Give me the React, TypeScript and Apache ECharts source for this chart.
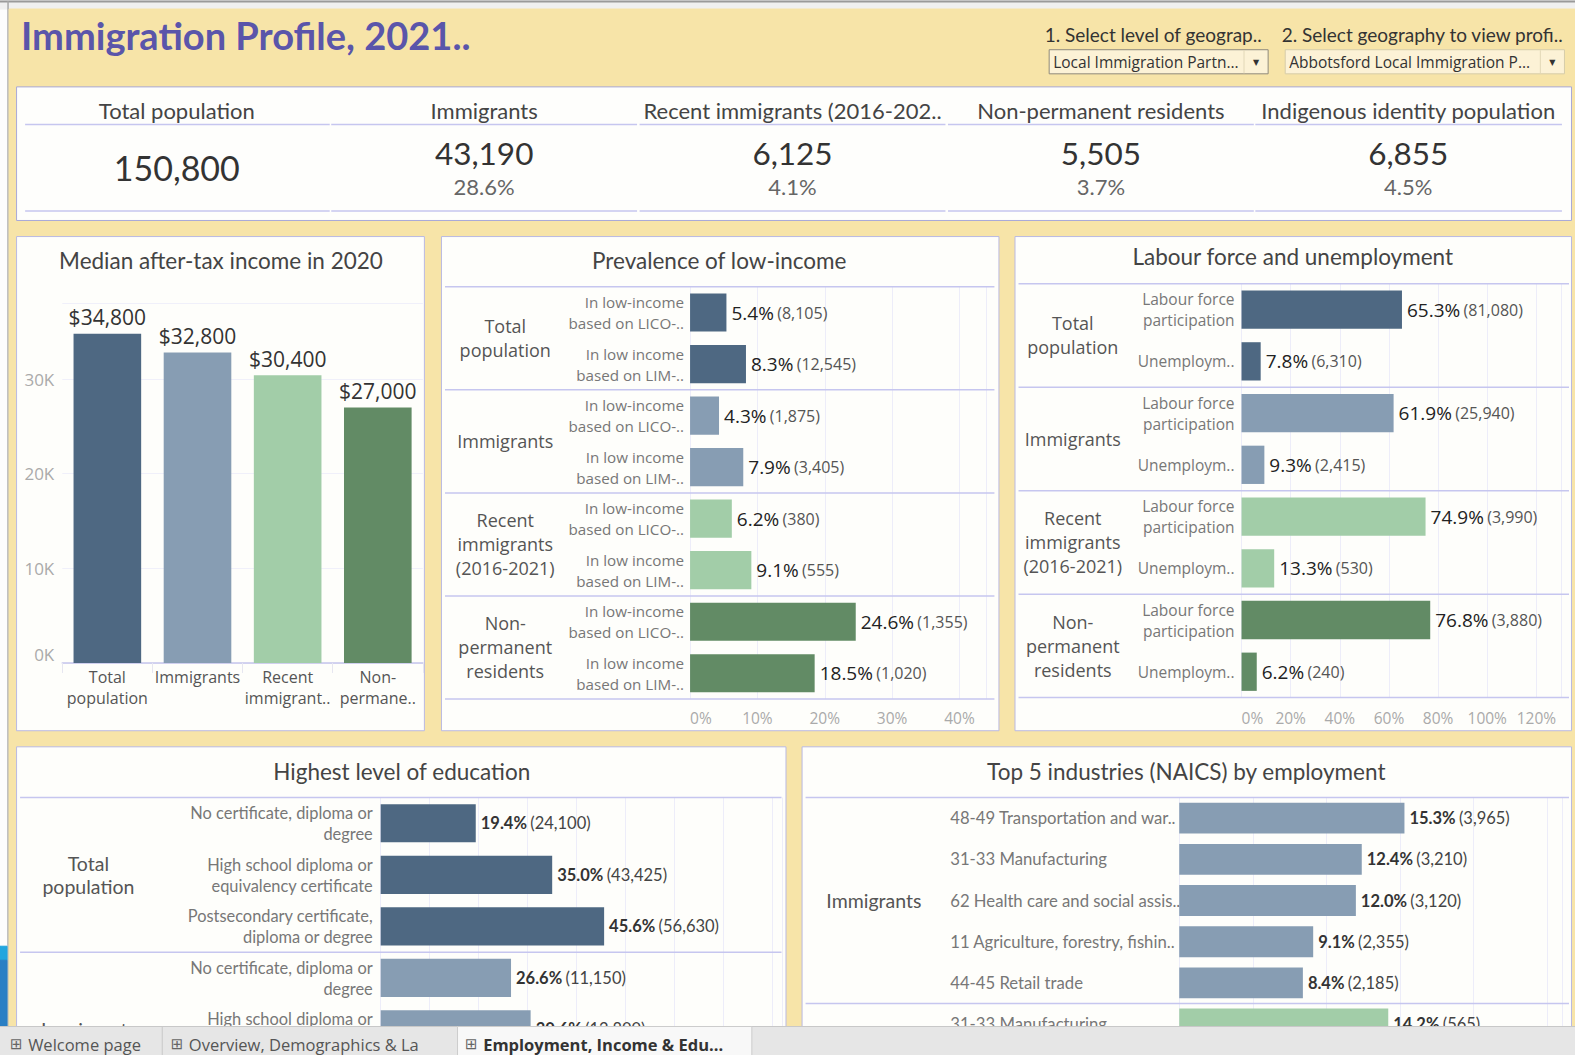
import React, { useEffect, useRef } from "react";
import * as echarts from "echarts";

const W = 1575;
const H = 1055;
const MAIN_H = 1026;

// ---------- data ----------
const dashboardTitle = "Immigration Profile, 2021..";
const filterLabels = ["1. Select level of geograp..", "2. Select geography to view profi.."];
const filterValues = ["Local Immigration Partn...", "Abbotsford Local Immigration P..."];

const kpiLabels = [
  "Total population",
  "Immigrants",
  "Recent immigrants (2016-202..",
  "Non-permanent residents",
  "Indigenous identity population",
];
const kpiValues = ["150,800", "43,190", "6,125", "5,505", "6,855"];
const kpiPercents = ["", "28.6%", "4.1%", "3.7%", "4.5%"];

const groups = ["Total population", "Immigrants", "Recent immigrants (2016-2021)", "Non-permanent residents"];
const groupLabels = ["Total\npopulation", "Immigrants", "Recent\nimmigrants\n(2016-2021)", "Non-\npermanent\nresidents"];
const groupColors = ["#4e6882", "#879db3", "#a2cda8", "#628b65"];

const incomeTitle = "Median after-tax income in 2020";
const incomeTickLabels = ["Total\npopulation", "Immigrants", "Recent\nimmigrant..", "Non-\npermane.."];
const incomeValues = [34800, 32800, 30400, 27000];

const lowTitle = "Prevalence of low-income";
const lowMeasures = ["In low-income\nbased on LICO-..", "In low income\nbased on LIM-.."];
const lowPct = [5.4, 8.3, 4.3, 7.9, 6.2, 9.1, 24.6, 18.5];
const lowCount = ["8,105", "12,545", "1,875", "3,405", "380", "555", "1,355", "1,020"];

const labourTitle = "Labour force and unemployment";
const labourMeasures = ["Labour force\nparticipation", "Unemploym.."];
const labourPct = [65.3, 7.8, 61.9, 9.3, 74.9, 13.3, 76.8, 6.2];
const labourCount = ["81,080", "6,310", "25,940", "2,415", "3,990", "530", "3,880", "240"];

const eduTitle = "Highest level of education";
const eduLevels = [
  "No certificate, diploma or\ndegree",
  "High school diploma or\nequivalency certificate",
  "Postsecondary certificate,\ndiploma or degree",
];
const eduRowGroup = [0, 0, 0, 1, 1];
const eduRowLevel = [0, 1, 2, 0, 1];
const eduPct = [19.4, 35.0, 45.6, 26.6, 30.6];
const eduCount = ["24,100", "43,425", "56,630", "11,150", "12,800"];

const indTitle = "Top 5 industries (NAICS) by employment";
const indLabels = [
  "48-49 Transportation and war..",
  "31-33 Manufacturing",
  "62 Health care and social assis..",
  "11 Agriculture, forestry, fishin..",
  "44-45 Retail trade",
  "31-33 Manufacturing",
];
const indRowGroup = [1, 1, 1, 1, 1, 2];
const indPct = [15.3, 12.4, 12.0, 9.1, 8.4, 14.2];
const indCount = ["3,965", "3,210", "3,120", "2,355", "2,185", "565"];

const tabs = ["Welcome page", "Overview, Demographics & La", "Employment, Income & Edu..."];

// ---------- layout ----------
const S = 1575 / 1568;
const sc = (v: number) => v * S;
const LATO = "Lato, 'Open Sans', sans-serif";
const OPEN = "'Open Sans', 'Noto Sans', sans-serif";
const LINE = "#c6c6ef";
const GRID_LINE = "#ededf9";

const Gd = {
  income: { left: 62, top: 302, width: 359, height: 358 },
  low: { left: 687, top: 285.5, width: 295, height: 410.4 },
  labour: { left: 1236, top: 282.5, width: 318, height: 412 },
  edu: { left: 379, top: 794, width: 400, height: 256.5 },
  ind: { left: 1174, top: 794, width: 381, height: 246 },
};
const scaleGrid = (g: any) => ({
  left: sc(g.left),
  top: sc(g.top),
  width: sc(g.width),
  height: sc(g.height),
  containLabel: false,
  outerBoundsMode: "none",
});

const fmtInt = (v: number) => String(v).replace(/\B(?=(\d{3})+(?!\d))/g, ",");

function text(x: number, y: number, s: string, st: any, extra: any = {}) {
  return {
    type: "text",
    x: sc(x),
    y: sc(y),
    silent: true,
    ...extra,
    style: { text: s, fill: "#444", align: "center", verticalAlign: "middle", ...st },
  };
}
function hline(x1: number, x2: number, y: number, color = LINE, w = 1.5, z = 1) {
  return { type: "line", z, silent: true, shape: { x1: sc(x1), y1: sc(y), x2: sc(x2), y2: sc(y) }, style: { stroke: color, lineWidth: w } };
}
function vline(x: number, y1: number, y2: number, color: string, w = 1, z = 1) {
  return { type: "line", z, silent: true, shape: { x1: sc(x), y1: sc(y1), x2: sc(x), y2: sc(y2) }, style: { stroke: color, lineWidth: w } };
}
function box(x: number, y: number, w: number, h: number, fill: string, stroke: string, z = -5) {
  return { type: "rect", z, silent: true, shape: { x: sc(x), y: sc(y), width: sc(w), height: sc(h) }, style: { fill, stroke, lineWidth: 1 } };
}

function buildOption() {
  const gr: any[] = [];

  // page background
  gr.push(box(0, 0, W, MAIN_H + 10, "#fdfdfd", "#fdfdfd", -20));
  gr.push(box(0, 0, W, 9, "#f0f0f0", "#f0f0f0", -19));
  gr.push(hline(0, W, 1.5, "#9a9a9a", 2, -18));
  gr.push(vline(8, 1, MAIN_H, "#a8a8a8", 1.5, -18));
  gr.push(box(9, 9, W, MAIN_H, "#f7e4a8", "#f7e4a8", -17));

  // blue strip
  gr.push(box(0, 942, 7, 14, "#22a6df", "#22a6df", -16));
  gr.push(box(0, 956, 7, 80, "#2a7fc4", "#2a7fc4", -16));

  // title
  gr.push(text(21, 35, dashboardTitle, { fontFamily: LATO, fontSize: 38, fontWeight: "bold", fill: "#5a55aa", align: "left" }));

  // filters
  const fx = [1040, 1276];
  const bx = [1044.5, 1279.5];
  const bw = [218, 278];
  filterLabels.forEach((s, i) => {
    gr.push(text(fx[i], 34, s, { fontFamily: LATO, fontSize: 19, fill: "#333", align: "left" }));
    gr.push(box(bx[i], 49.5, bw[i], 24, "#fcf2d6", i === 0 ? "#8f8a7c" : "#d6cdaa", 1));
    gr.push(vline(bx[i] + bw[i] - 24, 50, 73, "#e2d8b8", 1, 2));
    gr.push(text(bx[i] + 4, 62, filterValues[i], { fontFamily: OPEN, fontSize: 15.5, fill: "#333", align: "left" }, { z: 3 }));
    gr.push(text(bx[i] + bw[i] - 12, 62, "▼", { fontFamily: "'DejaVu Sans', sans-serif", fontSize: 8, fill: "#333" }, { z: 3 }));
  });

  // KPI box
  gr.push(box(16.5, 86.5, 1548, 133, "#fefefc", "#a8a8d8"));
  const colW = 306.5;
  const colCenters = [176, 482, 789, 1096, 1402];
  kpiLabels.forEach((s, i) => {
    const c = colCenters[i];
    const x1 = i === 0 ? 25 : c - colW / 2 + 1;
    const x2 = i === 4 ? 1555 : c + colW / 2 - 1;
    gr.push(hline(x1, x2, 124, LINE, 1.5));
    gr.push(hline(x1, x2, 210, LINE, 1.5));
    gr.push(text(c, 110, s, { fontFamily: LATO, fontSize: 22, fill: "#444" }));
    if (kpiPercents[i] === "") {
      gr.push(text(c, 167, kpiValues[i], { fontFamily: LATO, fontSize: 34, fill: "#333" }));
    } else {
      gr.push(text(c, 152, kpiValues[i], { fontFamily: LATO, fontSize: 31.5, fill: "#333" }));
      gr.push(text(c, 186, kpiPercents[i], { fontFamily: LATO, fontSize: 22, fill: "#666" }));
    }
  });

  // panels
  gr.push(box(16.5, 235.5, 406, 492, "#fefefb", "#b9b9e2"));
  gr.push(box(439.5, 235.5, 555, 492, "#fefefb", "#b9b9e2"));
  gr.push(box(1010.5, 235.5, 554, 492, "#fefefb", "#b9b9e2"));
  gr.push(box(16.5, 743.5, 766, 300, "#fefefb", "#b9b9e2"));
  gr.push(box(798.5, 743.5, 766, 300, "#fefefb", "#b9b9e2"));

  const titleSt = { fontFamily: LATO, fontSize: 22.5, fill: "#444" };
  gr.push(text(220, 259, incomeTitle, titleSt));
  gr.push(text(716, 259, lowTitle, titleSt));
  gr.push(text(1287, 255, labourTitle, titleSt));
  gr.push(text(400, 768, eduTitle, titleSt));
  gr.push(text(1181, 768, indTitle, titleSt));

  const grpSt = { fontFamily: OPEN, fontSize: 18, fill: "#555", lineHeight: 24 };

  // low-income separators & group labels
  const lowBand = Gd.low.height / lowPct.length;
  gr.push(hline(443, 990, Gd.low.top, LINE, 1.5));
  groups.forEach((_, k) => {
    gr.push(hline(443, 990, Gd.low.top + lowBand * 2 * (k + 1), LINE, 1.5));
    gr.push(text(503, Gd.low.top + lowBand * (2 * k + 1), groupLabels[k], grpSt));
  });

  // labour separators & group labels
  const labBand = Gd.labour.height / labourPct.length;
  gr.push(hline(1014, 1562, Gd.labour.top, LINE, 1.5));
  groups.forEach((_, k) => {
    gr.push(hline(1014, 1562, Gd.labour.top + labBand * 2 * (k + 1), LINE, 1.5));
    gr.push(text(1068, Gd.labour.top + labBand * (2 * k + 1), groupLabels[k], grpSt));
  });

  // education separators & group labels
  const eduBand = Gd.edu.height / eduPct.length;
  gr.push(hline(20, 778, Gd.edu.top, LINE, 1.5));
  gr.push(hline(20, 778, Gd.edu.top + eduBand * 3, LINE, 1.5));
  [0, 1].forEach((k) => {
    gr.push(text(88, Gd.edu.top + eduBand * (3 * k + 1.5), groupLabels[k], { fontFamily: LATO, fontSize: 19.5, fill: "#555", lineHeight: 23 }));
  });

  // industry separators & group labels
  const indBand = Gd.ind.height / indPct.length;
  gr.push(hline(802, 1562, Gd.ind.top, LINE, 1.5));
  gr.push(hline(802, 1562, Gd.ind.top + indBand * 5, LINE, 1.5));
  gr.push(text(870, Gd.ind.top + indBand * 2.5, groupLabels[1], { fontFamily: LATO, fontSize: 19.5, fill: "#555" }));

  // ---------- axes & series ----------
  const lowKeys = lowPct.map((_, i) => groups[Math.floor(i / 2)] + " | " + lowMeasures[i % 2]);
  const labKeys = labourPct.map((_, i) => groups[Math.floor(i / 2)] + " | " + labourMeasures[i % 2]);
  const eduKeys = eduPct.map((_, i) => groups[eduRowGroup[i]] + " | " + eduLevels[eduRowLevel[i]]);
  const indKeys = indPct.map((_, i) => groups[indRowGroup[i]] + " | " + indLabels[i]);

  const valAxis = (gi: number, max: number, interval: number, showLabels: boolean, margin = 10) => ({
    type: "value",
    gridIndex: gi,
    min: 0,
    max,
    interval,
    axisLine: { show: false },
    axisTick: { show: false },
    splitLine: { show: true, lineStyle: { color: GRID_LINE, width: 1 } },
    axisLabel: {
      show: showLabels,
      formatter: "{value}%",
      color: "#aaa",
      fontSize: 15.5,
      fontFamily: OPEN,
      margin,
      showMaxLabel: false,
      alignMinLabel: "left",
    },
  });
  const catAxis = (gi: number, keys: string[], fmt: (i: number) => string, lab: any) => ({
    type: "category",
    gridIndex: gi,
    inverse: true,
    data: keys,
    axisLine: { show: false },
    axisTick: { show: false },
    splitLine: { show: false },
    axisLabel: { interval: 0, formatter: (_v: string, i: number) => fmt(i), ...lab },
  });

  const hSeries = (gi: number, vals: number[], counts: string[], colorOf: (i: number) => string, bw: string, rich: any) => ({
    type: "bar",
    xAxisIndex: gi,
    yAxisIndex: gi,
    barWidth: bw,
    data: vals.map((v, i) => ({ value: v, itemStyle: { color: colorOf(i) } })),
    label: {
      show: true,
      position: "right",
      distance: 5,
      formatter: (p: any) => `{a|${p.value.toFixed(1)}%} {b|(${counts[p.dataIndex]})}`,
      rich,
    },
  });

  const richLarge = {
    a: { fontFamily: OPEN, fontSize: 19, color: "#222" },
    b: { fontFamily: OPEN, fontSize: 16, color: "#555" },
  };
  const richSmall = {
    a: { fontFamily: LATO, fontSize: 16.5, fontWeight: "bold", color: "#333" },
    b: { fontFamily: LATO, fontSize: 16.5, color: "#444" },
  };

  return {
    animation: false,
    backgroundColor: "transparent",
    graphic: gr,
    grid: [Gd.income, Gd.low, Gd.labour, Gd.edu, Gd.ind].map(scaleGrid),
    xAxis: [
      {
        type: "category",
        gridIndex: 0,
        data: groups,
        axisLine: { lineStyle: { color: "#c5c5ec", width: 1.5 } },
        axisTick: { show: true, length: 10, lineStyle: { color: "#e6e6f0" } },
        axisLabel: {
          interval: 0,
          formatter: (_v: string, i: number) => incomeTickLabels[i],
          color: "#555",
          fontSize: 16,
          fontFamily: OPEN,
          lineHeight: 21,
          margin: 4,
        },
      },
      valAxis(1, 44, 10, true, 11),
      valAxis(2, 130, 20, true, 12),
      valAxis(3, 82, 10, false),
      valAxis(4, 26, 5, false),
    ],
    yAxis: [
      {
        type: "value",
        gridIndex: 0,
        min: 0,
        max: 38000,
        interval: 10000,
        axisLine: { show: false },
        axisTick: { show: false },
        splitLine: { lineStyle: { color: "#f0f0fa" } },
        axisLabel: {
          formatter: (v: number) => v / 1000 + "K",
          color: "#aaa",
          fontSize: 17,
          fontFamily: OPEN,
          margin: 8,
          showMaxLabel: false,
          verticalAlignMinLabel: "bottom",
        },
      },
      catAxis(1, lowKeys, (i) => lowMeasures[i % 2], { align: "right", margin: 6, fontSize: 15.2, color: "#777", fontFamily: OPEN, lineHeight: 21 }),
      catAxis(2, labKeys, (i) => labourMeasures[i % 2], { align: "right", margin: 7, fontSize: 15.5, color: "#777", fontFamily: OPEN, lineHeight: 21 }),
      catAxis(3, eduKeys, (i) => eduLevels[eduRowLevel[i]], { align: "right", margin: 8, fontSize: 16.4, color: "#777", fontFamily: LATO, lineHeight: 21 }),
      catAxis(4, indKeys, (i) => indLabels[i], { align: "left", margin: sc(228), fontSize: 16.7, color: "#777", fontFamily: LATO }),
    ],
    series: [
      {
        type: "bar",
        xAxisIndex: 0,
        yAxisIndex: 0,
        barWidth: "75%",
        data: incomeValues.map((v, i) => ({ value: v, itemStyle: { color: groupColors[i] } })),
        label: {
          show: true,
          position: "top",
          distance: 6,
          formatter: (p: any) => "$" + fmtInt(p.value),
          fontFamily: OPEN,
          fontSize: 21,
          color: "#333",
        },
      },
      hSeries(1, lowPct, lowCount, (i) => groupColors[Math.floor(i / 2)], "74%", richLarge),
      hSeries(2, labourPct, labourCount, (i) => groupColors[Math.floor(i / 2)], "74%", richLarge),
      hSeries(3, eduPct, eduCount, (i) => groupColors[eduRowGroup[i]], "74%", richSmall),
      hSeries(4, indPct, indCount, (i) => groupColors[indRowGroup[i]], "75%", richSmall),
    ],
  };
}

function buildTabsOption() {
  const th = H - MAIN_H;
  const g: any[] = [];
  g.push({ type: "rect", silent: true, shape: { x: 0, y: 0, width: W, height: th }, style: { fill: "#e6e6e6" } });
  g.push({ type: "line", silent: true, shape: { x1: 0, y1: 0.5, x2: W, y2: 0.5 }, style: { stroke: "#c8c8c8", lineWidth: 1 } });
  g.push({ type: "line", silent: true, shape: { x1: sc(161) + 0.5, y1: 0, x2: sc(161) + 0.5, y2: th }, style: { stroke: "#c8c8c8", lineWidth: 1 } });
  g.push({ type: "rect", silent: true, shape: { x: sc(455) + 0.5, y: 0.5, width: sc(293), height: th + 2 }, style: { fill: "#f8f8f8", stroke: "#cccccc", lineWidth: 1 } });
  const tabX = [10, 170, 463];
  const cy = 18;
  tabs.forEach((s, i) => {
    g.push({
      type: "text",
      silent: true,
      x: sc(tabX[i]),
      y: cy,
      style: { text: "⊞", fontFamily: "'DejaVu Sans', sans-serif", fontSize: 15, fill: "#666", align: "left", verticalAlign: "middle" },
    });
    g.push({
      type: "text",
      silent: true,
      x: sc(tabX[i] + 18),
      y: cy,
      style: {
        text: s,
        fontFamily: OPEN,
        fontSize: 16.5,
        fill: i === 2 ? "#333" : "#555",
        fontWeight: i === 2 ? "bold" : "normal",
        align: "left",
        verticalAlign: "middle",
      },
    });
  });
  return { animation: false, graphic: g };
}

export default function App() {
  const ref = useRef<HTMLDivElement>(null);
  const tabRef = useRef<HTMLDivElement>(null);
  useEffect(() => {
    const chart = echarts.init(ref.current!, null, { renderer: "svg", width: W, height: MAIN_H });
    chart.setOption(buildOption() as any);
    const tabsChart = echarts.init(tabRef.current!, null, { renderer: "svg", width: W, height: H - MAIN_H });
    tabsChart.setOption(buildTabsOption() as any);
    return () => {
      chart.dispose();
      tabsChart.dispose();
    };
  }, []);
  return (
    <div style={{ position: "absolute", left: 0, top: 0, width: W, height: H, overflow: "hidden" }}>
      <div ref={ref} style={{ position: "absolute", left: 0, top: 0, width: W, height: MAIN_H, overflow: "hidden" }} />
      <div ref={tabRef} style={{ position: "absolute", left: 0, top: MAIN_H, width: W, height: H - MAIN_H, overflow: "hidden" }} />
    </div>
  );
}
